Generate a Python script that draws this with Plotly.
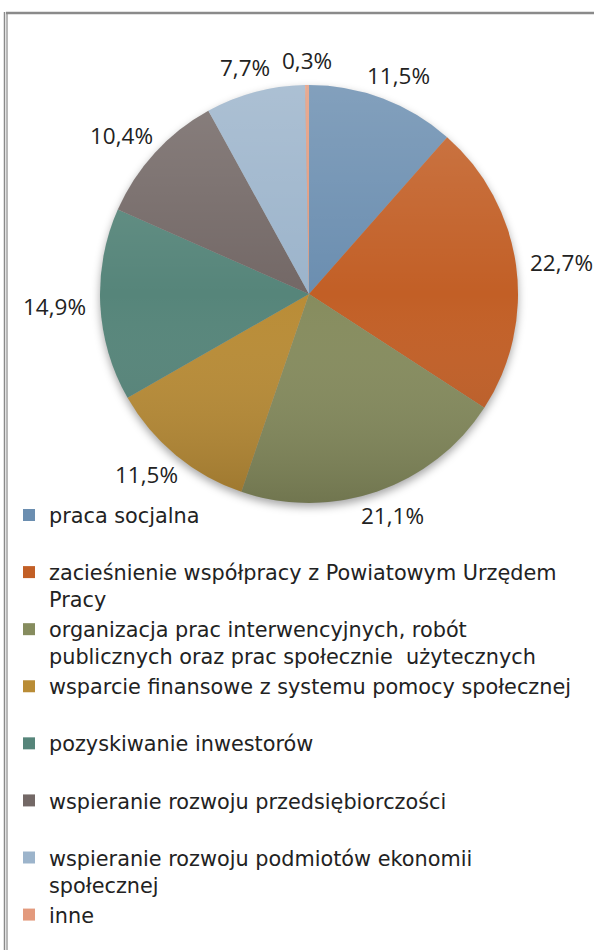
import base64
import math
import plotly.graph_objects as go

# ---- data ----
categories = [
    "praca socjalna",
    "zacieśnienie współpracy z Powiatowym Urzędem<br>Pracy",
    "organizacja prac interwencyjnych, robót<br>publicznych oraz prac społecznie  użytecznych",
    "wsparcie finansowe z systemu pomocy społecznej",
    "pozyskiwanie inwestorów",
    "wspieranie rozwoju przedsiębiorczości",
    "wspieranie rozwoju podmiotów ekonomii<br>społecznej",
    "inne",
]
values = [11.5, 22.7, 21.1, 11.5, 14.9, 10.4, 7.7, 0.3]
value_labels = ["11,5%", "22,7%", "21,1%", "11,5%", "14,9%", "10,4%", "7,7%", "0,3%"]

colors = ["#6B8EB0", "#C25F26", "#868C5E", "#B98C36",
          "#56857A", "#736866", "#9CB4CB", "#E39A7D"]

W, H = 594, 950
CX, CY, R = 309, 294, 209   # pie centre / radius in pixels
LABEL_FONT = "Open Sans"
LEGEND_FONT = "DejaVu Sans"

# legend entries: pad single-line entries to two lines (except last)
legend_names = []
for i, c in enumerate(categories):
    if "<br>" not in c and i < len(categories) - 1:
        legend_names.append(c + "<br> ")
    else:
        legend_names.append(c)

fig = go.Figure()
fig.add_trace(go.Pie(
    labels=legend_names,
    values=values,
    sort=False,
    direction="clockwise",
    rotation=0,
    marker=dict(colors=colors, line=dict(width=0)),
    textinfo="none",
    hoverinfo="label+percent",
    domain=dict(x=[(CX - R) / W, (CX + R) / W],
                y=[1 - (CY + R) / H, 1 - (CY - R) / H]),
))

# data labels placed outside slices, positions derived from the values
total = sum(values)
annotations = []
cum = 0.0
gap = 14
for v, t in zip(values, value_labels):
    mid = (cum + v / 2) / total * 2 * math.pi
    cum += v
    s, c = math.sin(mid), math.cos(mid)
    w, h = 12.6 * len(t), 22
    px = CX + (R + gap) * s + (w / 2) * s
    py = CY - (R + gap) * c - (h / 2) * c
    annotations.append(dict(
        x=px / W, y=1 - py / H, xref="paper", yref="paper",
        text=t, showarrow=False, xanchor="center", yanchor="middle",
        font=dict(family=LABEL_FONT, size=22.5, color="#222222"),
    ))

# subtle gradient overlay + shadow to mimic the shaded look
D = 2 * R
grad_svg = (
    f'<svg xmlns="http://www.w3.org/2000/svg" width="{D}" height="{D}" viewBox="0 0 {D} {D}">'
    '<defs><linearGradient id="g" x1="0" y1="0" x2="0" y2="1">'
    '<stop offset="0" stop-color="#ffffff" stop-opacity="0.16"/>'
    '<stop offset="0.5" stop-color="#ffffff" stop-opacity="0"/>'
    '<stop offset="1" stop-color="#000000" stop-opacity="0.16"/>'
    '</linearGradient></defs>'
    f'<circle cx="{R}" cy="{R}" r="{R}" fill="url(#g)"/></svg>'
)
shadow_svg = (
    f'<svg xmlns="http://www.w3.org/2000/svg" width="{D+40}" height="{D+40}" viewBox="0 0 {D+40} {D+40}">'
    '<defs><filter id="f" x="-20%" y="-20%" width="140%" height="140%">'
    '<feGaussianBlur stdDeviation="4"/></filter></defs>'
    f'<circle cx="{R+20}" cy="{R+24}" r="{R}" fill="#000000" fill-opacity="0.35" filter="url(#f)"/></svg>'
)


def uri(svg):
    return "data:image/svg+xml;base64," + base64.b64encode(svg.encode()).decode()


images = [
    dict(source=uri(shadow_svg), xref="paper", yref="paper",
         x=(CX - R - 20) / W, y=1 - (CY - R - 20) / H,
         sizex=(D + 40) / W, sizey=(D + 40) / H,
         xanchor="left", yanchor="top", sizing="stretch", layer="below"),
    dict(source=uri(grad_svg), xref="paper", yref="paper",
         x=(CX - R) / W, y=1 - (CY - R) / H,
         sizex=D / W, sizey=D / H,
         xanchor="left", yanchor="top", sizing="stretch", layer="above"),
]

# double grey frame (chart area border)
shapes = [
    dict(type="line", xref="paper", yref="paper",
         x0=4.5 / W, x1=4.5 / W, y0=0, y1=1 - 12 / H,
         line=dict(color="#8a8a8a", width=1.5)),
    dict(type="line", xref="paper", yref="paper",
         x0=7 / W, x1=7 / W, y0=0, y1=1 - 13 / H,
         line=dict(color="#a0a0a0", width=1.5)),
    dict(type="line", xref="paper", yref="paper",
         x0=6 / W, x1=1, y0=1 - 13 / H, y1=1 - 13 / H,
         line=dict(color="#8a8a8a", width=2.5)),
]

fig.update_layout(
    width=W, height=H,
    margin=dict(l=0, r=0, t=0, b=0, autoexpand=False),
    paper_bgcolor="white",
    plot_bgcolor="white",
    showlegend=True,
    legend=dict(
        x=9 / W, y=1 - 495 / H, xanchor="left", yanchor="top",
        orientation="v", valign="top",
        font=dict(family=LEGEND_FONT, size=20.8, color="#222222"),
        bgcolor="rgba(0,0,0,0)", borderwidth=0,
        traceorder="normal",
    ),
    annotations=annotations,
    images=images,
    shapes=shapes,
)

fig.write_html("out.html",
               config={"displayModeBar": False},
               post_script="document.body.style.margin='0';document.body.style.overflow='hidden';")
